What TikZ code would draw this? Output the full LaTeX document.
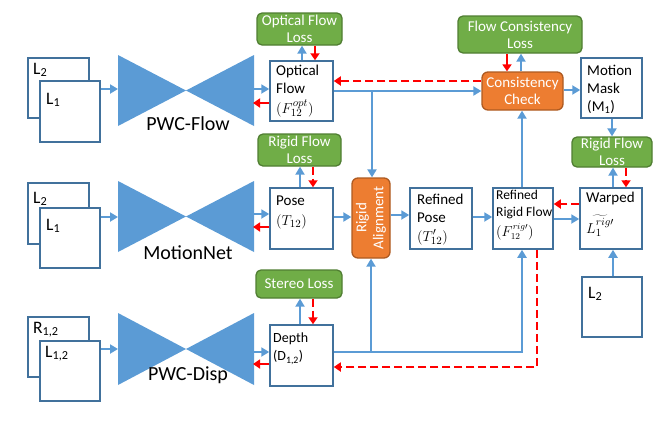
\documentclass[tikz,border=0pt]{standalone}
\usepackage{fontspec}
\setmainfont{Carlito}
\usetikzlibrary{arrows.meta}
\definecolor{bl}{HTML}{5B9BD5}
\definecolor{bd}{HTML}{41719C}
\definecolor{gr}{HTML}{70AD47}
\definecolor{grd}{HTML}{507E32}
\definecolor{orf}{HTML}{ED7D31}
\definecolor{ord}{HTML}{AE5A21}
\begin{document}
\begin{tikzpicture}[x=1pt,y=-1pt,
  wbox/.style={draw=bd,line width=1.5pt,fill=white,inner sep=0pt},
  gbox/.style={draw=grd,fill=gr,rounded corners=5pt,line width=1.3pt,text=white,align=center,inner sep=0pt,font=\fontsize{15}{17}\selectfont},
  obox/.style={draw=ord,fill=orf,rounded corners=6pt,line width=1.3pt,text=white,align=center,inner sep=0pt,font=\fontsize{15}{17}\selectfont},
  txt/.style={anchor=north west,align=left,inner sep=0pt,font=\fontsize{15}{18}\selectfont},
  lbl/.style={anchor=base west,inner sep=0pt,font=\fontsize{17.5}{19}\selectfont},
  big/.style={anchor=base,inner sep=0pt,font=\fontsize{20}{22}\selectfont},
  barr/.style={draw=bl,line width=2.8pt,-{Triangle[length=8pt,width=9pt]}},
  rarr/.style={draw=red,line width=2.8pt,-{Triangle[length=7pt,width=9pt]}},
  rdash/.style={rarr,dash pattern=on 8pt off 4pt},
]
\useasboundingbox (0,0) rectangle (672,421);

% ---- bowties
\fill[bl] (118,55) -- (118,126) -- (186,90.5) -- cycle;
\fill[bl] (186,90.5) -- (254,55) -- (254,126) -- cycle;
\fill[bl] (118,181) -- (118,252) -- (186,216.5) -- cycle;
\fill[bl] (186,216.5) -- (254,181) -- (254,252) -- cycle;
\fill[bl] (118,313) -- (118,385) -- (186,349) -- cycle;
\fill[bl] (186,349) -- (254,313) -- (254,385) -- cycle;
\node[big] (pwcf) at (188,130) {PWC-Flow};
\node[big] (mnet) at (188,259) {MotionNet};
\node[big] (pwcd) at (188,380) {PWC-Disp};
\coordinate (b1L) at (118,89);
\coordinate (b1R) at (254,89);
\coordinate (b1Rr) at (253,103);
\coordinate (b2L) at (118,217);
\coordinate (b2R) at (254,214);
\coordinate (b2Rr) at (253,227);
\coordinate (b3L) at (118,349);
\coordinate (b3R) at (254,352);
\coordinate (b3Rr) at (253,364);

% ---- input image stacks
\node[wbox,minimum width=61pt,minimum height=60pt] (L2a) at (58.5,88) {};
\node[wbox,minimum width=60pt,minimum height=61pt] (L1a) at (70,111.5) {};
\node[lbl] (tL2a) at (33,74) {L\textsubscript{2}};
\node[lbl] (tL1a) at (46,104) {L\textsubscript{1}};
\node[wbox,minimum width=61pt,minimum height=61pt] (L2b) at (58.5,213.5) {};
\node[wbox,minimum width=60pt,minimum height=60pt] (L1b) at (70,238) {};
\node[lbl] (tL2b) at (33,203) {L\textsubscript{2}};
\node[lbl] (tL1b) at (46,230) {L\textsubscript{1}};
\node[wbox,minimum width=61pt,minimum height=60pt] (R12) at (58.5,347) {};
\node[wbox,minimum width=60pt,minimum height=60pt] (L12) at (70,371) {};
\node[lbl] (tR12) at (33,333) {R\textsubscript{1,2}};
\node[lbl] (tL12) at (45,357) {L\textsubscript{1,2}};
\node[wbox,minimum width=60pt,minimum height=60pt] (L2c) at (612,307) {};
\node[lbl] (tL2c) at (588,298) {L\textsubscript{2}};

% ---- white boxes
\node[wbox,minimum width=63pt,minimum height=60pt] (OF) at (301.5,91) {};
\node[txt] (tOF) at (276,64.5) {Optical\\Flow\\[2pt]$(F_{12}^{opt})$};
\node[wbox,minimum width=61pt,minimum height=60pt] (MM) at (611.5,88) {};
\node[txt] (tMM) at (587,64.5) {Motion\\Mask\\(M\textsubscript{1})};
\node[wbox,minimum width=63pt,minimum height=61pt] (Pose) at (301.5,218.5) {};
\node[txt,font=\fontsize{15}{20}\selectfont] (tPose) at (276,196) {Pose\\$(T_{12})$};
\node[wbox,minimum width=62pt,minimum height=61pt] (RP) at (441,218.5) {};
\node[txt,font=\fontsize{15}{18.5}\selectfont] (tRP) at (417,193.5) {Refined\\Pose\\$(T'_{12})$};
\node[wbox,minimum width=60pt,minimum height=61pt] (RRF) at (523,218.5) {};
\node[txt,font=\fontsize{13.5}{16.5}\selectfont] (tRRF) at (496,190) {Refined\\Rigid Flow\\[4pt]$(F_{12}^{rig\prime})$};
\node[wbox,minimum width=62pt,minimum height=61pt] (Warped) at (611,218.5) {};
\node[txt,font=\fontsize{15}{18}\selectfont] (tW) at (586,192) {Warped};
\node[anchor=base west,inner sep=0pt,font=\fontsize{15}{18}\selectfont] (tWm) at (586,233) {$\widetilde{L_1^{rig\prime}}$};
\node[wbox,minimum width=63pt,minimum height=61pt] (Depth) at (301.5,355.5) {};
\node[txt,font=\fontsize{14}{18}\selectfont] (tD) at (273,333) {Depth\\(D\textsubscript{1,2})};

% ---- green / orange boxes
\node[gbox,minimum width=85pt,minimum height=32pt] (OFL) at (299.5,29) {Optical Flow\\Loss};
\node[gbox,minimum width=83pt,minimum height=32pt] (RFLl) at (299.5,150) {Rigid Flow\\Loss};
\node[gbox,minimum width=86pt,minimum height=28pt] (SL) at (299,284) {Stereo Loss};
\node[gbox,minimum width=124pt,minimum height=37pt] (FCL) at (520,34.5) {Flow Consistency\\Loss};
\node[gbox,minimum width=80pt,minimum height=30pt] (RFLr) at (612,152) {Rigid Flow\\Loss};
\node[obox,minimum width=81pt,minimum height=38pt] (CC) at (522.5,91) {Consistency\\Check};
\node[obox,minimum width=38pt,minimum height=80pt] (RA) at (371,218) {};
\node[rotate=90,text=white,align=center,inner sep=0pt,font=\fontsize{15}{17}\selectfont] (tRA) at (RA.center) {Rigid\\Alignment};

% ---- row 1 connectors
\draw[barr] (L1a.east |- b1L) -- (b1L);
\draw[barr] (b1R) -- (b1R -| OF.west);
\draw[rarr] (b1Rr -| OF.west) -- (b1Rr);
\draw[barr] (302,0 |- OF.north) -- (302,0 |- OFL.south);
\draw[rarr] (315,0 |- OFL.south) -- (315,0 |- OF.north);
\draw[rdash] (CC.west |- 0,81) -- (OF.east |- 0,81);
\draw[barr] (OF.east |- 0,91) -- (CC.west |- 0,91);
\coordinate (j1) at (372,91);
\draw[barr] (j1) -- (j1 |- RA.north);
\draw[rarr] (507,0 |- FCL.south) -- (507,0 |- CC.north);
\draw[barr] (521,0 |- CC.north) -- (521,0 |- FCL.south);
\draw[barr] (CC.east |- 0,90) -- (MM.west |- 0,90);
\draw[barr] (612,0 |- MM.south) -- (612,0 |- RFLr.north);

% ---- row 2 connectors
\draw[barr] (L1b.east |- b2L) -- (b2L);
\draw[barr] (b2R) -- (b2R -| Pose.west);
\draw[rarr] (b2Rr -| Pose.west) -- (b2Rr);
\draw[barr] (300,0 |- Pose.north) -- (300,0 |- RFLl.south);
\draw[rdash] (313,0 |- RFLl.south) -- (313,0 |- Pose.north);
\draw[barr] (Pose.east |- 0,217) -- (RA.west |- 0,217);
\draw[barr] (RA.east |- 0,215) -- (RP.west |- 0,215);
\draw[barr] (RP.east |- 0,217) -- (RRF.west |- 0,217);
\draw[barr] (522,0 |- RRF.north) -- (522,0 |- CC.south);
\draw[rdash] (Warped.west |- 0,204) -- (RRF.east |- 0,204);
\draw[barr] (RRF.east |- 0,219) -- (Warped.west |- 0,219);
\draw[barr] (613,0 |- Warped.north) -- (613,0 |- RFLr.south);
\draw[rdash] (626,0 |- RFLr.south) -- (626,0 |- Warped.north);
\draw[barr] (613,0 |- L2c.north) -- (613,0 |- Warped.south);

% ---- row 3 connectors
\draw[barr] (L12.east |- b3L) -- (b3L);
\draw[barr] (b3R) -- (b3R -| Depth.west);
\draw[rarr] (b3Rr -| Depth.west) -- (b3Rr);
\draw[barr] (300,0 |- Depth.north) -- (300,0 |- SL.south);
\draw[rdash] (313,0 |- SL.south) -- (313,0 |- Depth.north);
\coordinate (c1) at (522,352);
\coordinate (j2) at (371,352);
\draw[barr,line join=miter] (Depth.east |- c1) -- (c1) -- (c1 |- RRF.south);
\draw[barr] (j2) -- (j2 |- RA.south);
\coordinate (c2) at (537,367);
\draw[rdash,line join=miter] (c2 |- RRF.south) -- (c2) -- (Depth.east |- c2);
\end{tikzpicture}
\end{document}
